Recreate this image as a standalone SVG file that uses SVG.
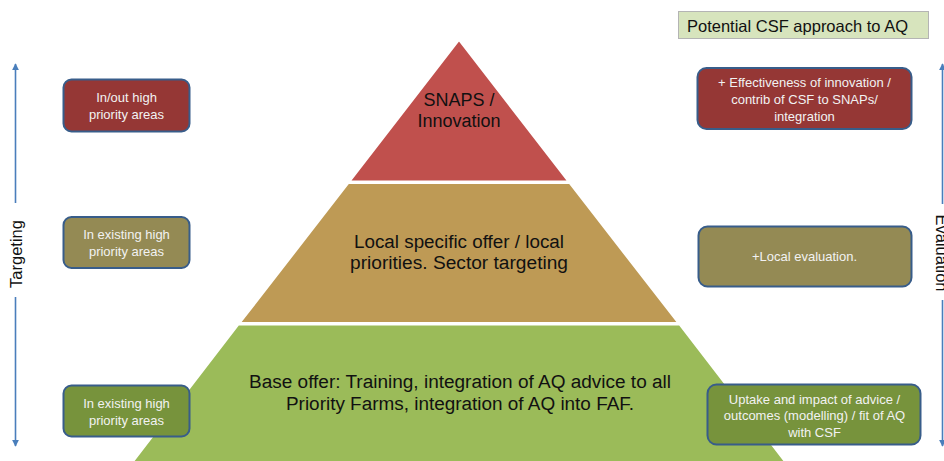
<svg xmlns="http://www.w3.org/2000/svg" width="944" height="461" viewBox="0 0 944 461">
  <defs>
    <marker id="head" viewBox="0 0 10 10" refX="9" refY="5" markerWidth="4.5" markerHeight="4.5" orient="auto-start-reverse" markerUnits="strokeWidth">
      <path d="M0,0 L10,5 L0,10 Z" fill="#4A7EBB"/>
    </marker>
    <style>
      .tier { stroke: #FFFFFF; stroke-width: 2; }
      .big { font-family: "Liberation Sans", Arial, sans-serif; font-size: 18px; fill: #111111; text-anchor: middle; }
      .box { stroke: #385D8A; stroke-width: 2; }
      .small { font-family: "Liberation Sans", Arial, sans-serif; font-size: 13px; fill: #F2F2F2; text-anchor: middle; }
      .axis { stroke: #4A7EBB; stroke-width: 1.6; fill: none; }
      .axislabel { font-family: "Liberation Sans", Arial, sans-serif; font-size: 16.5px; fill: #111111; text-anchor: middle; }
    </style>
  </defs>

  <rect width="944" height="461" fill="#FFFFFF"/>

  <!-- Title -->
  <g id="title">
    <rect x="678.5" y="11.5" width="250" height="27" fill="#D7E4BD" stroke="#B4B4B4" stroke-width="1"/>
    <text x="687" y="32" font-family="'Liberation Sans', Arial, sans-serif" font-size="16.5" fill="#111111" textLength="221" lengthAdjust="spacingAndGlyphs">Potential CSF approach to AQ</text>
  </g>

  <!-- Pyramid tiers -->
  <g id="tier-top">
    <polygon class="tier" points="459,40 568.4,181.5 349.6,181.5" fill="#C0504D"/>
    <text class="big" x="459" y="106">SNAPS /</text>
    <text class="big" x="459" y="127">Innovation</text>
  </g>
  <g id="tier-middle">
    <polygon class="tier" points="348.4,183 569.6,183 678.3,323 239.7,323" fill="#BE9A55"/>
    <text class="big" x="459" y="248" textLength="210" lengthAdjust="spacingAndGlyphs">Local specific offer / local</text>
    <text class="big" x="459" y="269" textLength="218" lengthAdjust="spacingAndGlyphs">priorities. Sector targeting</text>
  </g>
  <g id="tier-base">
    <polygon class="tier" points="238.4,324.5 679.6,324.5 790,468 128,468" fill="#9BBB59"/>
    <text class="big" x="460" y="388" textLength="422" lengthAdjust="spacingAndGlyphs">Base offer: Training, integration of AQ advice to all</text>
    <text class="big" x="460" y="410" textLength="348" lengthAdjust="spacingAndGlyphs">Priority Farms, integration of AQ into FAF.</text>
  </g>

  <!-- Targeting boxes (left) -->
  <g id="target-top">
    <rect class="box" x="63.5" y="79.5" width="126" height="52" rx="8" fill="#953735"/>
    <text class="small" x="126.5" y="102">In/out high</text>
    <text class="small" x="126.5" y="119">priority areas</text>
  </g>
  <g id="target-middle">
    <rect class="box" x="63.5" y="217" width="126" height="51" rx="8" fill="#948A54"/>
    <text class="small" x="126.5" y="238.5">In existing high</text>
    <text class="small" x="126.5" y="255.5">priority areas</text>
  </g>
  <g id="target-base">
    <rect class="box" x="63.5" y="385.5" width="126" height="51" rx="8" fill="#77933C"/>
    <text class="small" x="126.5" y="407.5">In existing high</text>
    <text class="small" x="126.5" y="424.5">priority areas</text>
  </g>

  <!-- Evaluation boxes (right) -->
  <g id="eval-top">
    <rect class="box" x="697.5" y="68" width="214" height="61" rx="9" fill="#953735"/>
    <text class="small" x="804.5" y="87">+ Effectiveness  of innovation /</text>
    <text class="small" x="804.5" y="103.5">contrib of CSF to SNAPs/</text>
    <text class="small" x="804.5" y="120.5">integration</text>
  </g>
  <g id="eval-middle">
    <rect class="box" x="698.5" y="226.5" width="213" height="60" rx="9" fill="#948A54"/>
    <text class="small" x="804.5" y="261">+Local evaluation.</text>
  </g>
  <g id="eval-base">
    <rect class="box" x="707.5" y="384.5" width="213" height="60" rx="9" fill="#77933C"/>
    <text class="small" x="814.5" y="403.5">Uptake and impact of advice /</text>
    <text class="small" x="814.5" y="420">outcomes (modelling) / fit of AQ</text>
    <text class="small" x="814.5" y="436.5">with CSF</text>
  </g>

  <!-- Axis connectors -->
  <g id="connectors">
    <line class="axis" x1="15.5" y1="203" x2="15.5" y2="64" marker-end="url(#head)"/>
    <line class="axis" x1="15.5" y1="297" x2="15.5" y2="446" marker-end="url(#head)"/>
    <line class="axis" x1="942.5" y1="204" x2="942.5" y2="64" marker-end="url(#head)"/>
    <line class="axis" x1="942.5" y1="300" x2="942.5" y2="446" marker-end="url(#head)"/>
  </g>

  <!-- Axis labels -->
  <g id="axis-targeting">
    <text class="axislabel" transform="translate(21.5,254) rotate(-90)">Targeting</text>
  </g>
  <g id="axis-evaluation">
    <text class="axislabel" transform="translate(936,253) rotate(90)">Evaluation</text>
  </g>
</svg>
